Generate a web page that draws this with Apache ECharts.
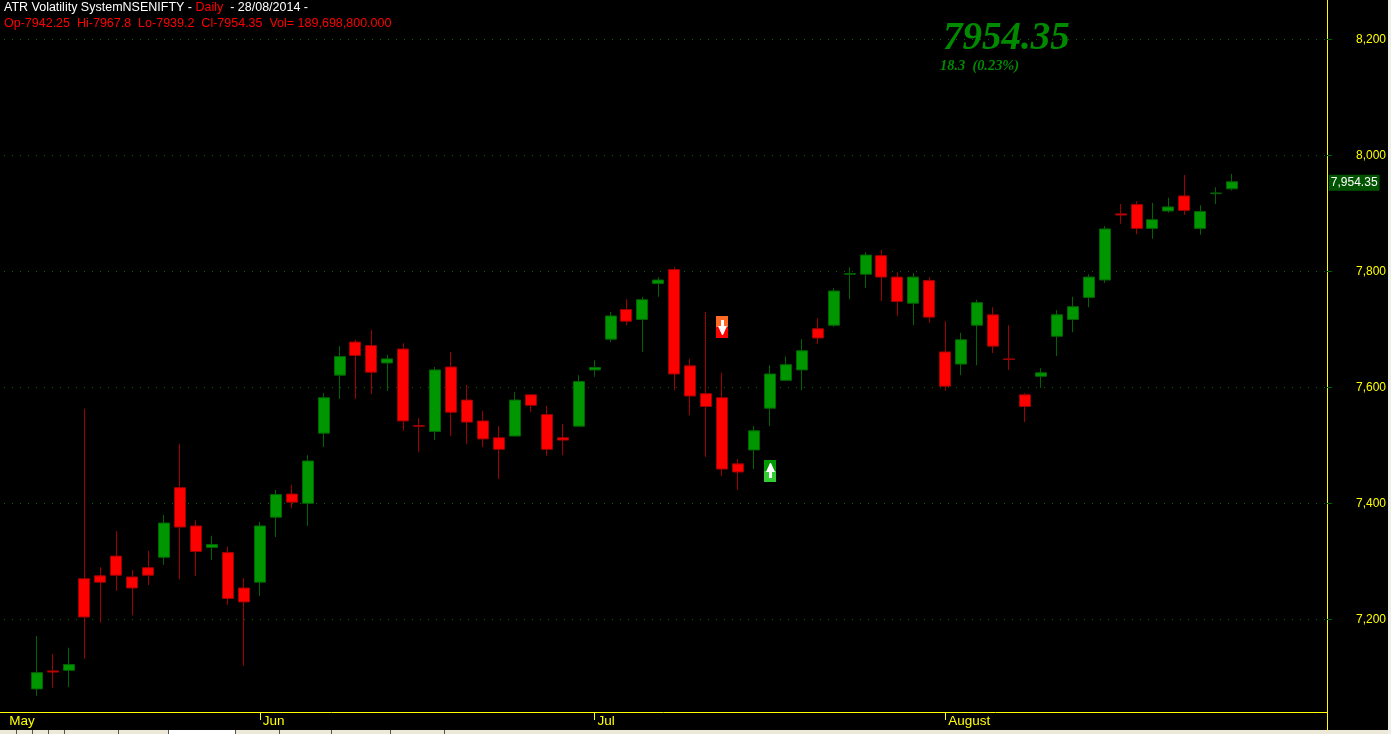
<!DOCTYPE html>
<html>
<head>
<meta charset="utf-8">
<title>ATR Volatility System NSENIFTY</title>
<script src="https://cdn.jsdelivr.net/npm/echarts@6/dist/echarts.min.js"></script>
<style>
	html, body { margin: 0; padding: 0; background: #000; }
	#chart { width: 1391px; height: 734px; }
</style>
</head>
<body>
<div id="chart"></div>
<script>
// one value per trading day, May to 28 Aug 2014
var opens = [7080,7111,7112,7270,7275,7309,7273,7289,7307,7427,7361,7324,7315,7254,7264,7376,7416,7400,7521,7621,
	7678,7672,7642,7666,7534,7524,7635,7578,7542,7513,7516,7587,7553,7513,7533,7630,7683,7734,7717,7779,
	7803,7637,7589,7582,7468,7492,7564,7612,7630,7701,7707,7795,7795,7827,7790,7745,7784,7661,7640,7707,
	7725,7649,7587,7619,7688,7717,7755,7785,7899,7915,7874,7904,7930,7874,7934,7942.25];
var closes = [7108,7109,7122,7204,7264,7276,7254,7276,7366,7359,7317,7329,7236,7230,7361,7415,7402,7473,7582,7653,
	7655,7626,7649,7542,7533,7630,7557,7540,7511,7493,7578,7569,7493,7509,7610,7634,7723,7714,7751,7785,
	7623,7585,7567,7459,7454,7525,7623,7639,7663,7685,7766,7796,7828,7790,7748,7790,7721,7602,7682,7746,
	7671,7648,7567,7625,7725,7739,7790,7873,7897,7874,7889,7911,7905,7903,7935,7954.35];
var lows = [7068,7082,7083,7132,7194,7249,7207,7259,7294,7269,7275,7302,7225,7120,7240,7342,7392,7361,7497,7580,
	7580,7588,7594,7525,7488,7509,7516,7502,7497,7442,7515,7557,7482,7483,7532,7618,7678,7707,7661,7756,
	7595,7552,7480,7447,7423,7459,7533,7611,7595,7675,7704,7752,7771,7749,7723,7707,7711,7594,7621,7638,
	7659,7630,7540,7599,7654,7695,7738,7780,7882,7864,7856,7901,7897,7863,7916,7939.2];
var highs = [7171,7140,7151,7563,7290,7352,7285,7318,7380,7502,7371,7344,7325,7271,7368,7423,7432,7483,7590,7671,
	7682,7699,7656,7676,7547,7635,7661,7604,7559,7533,7592,7588,7568,7537,7621,7647,7730,7752,7756,7790,
	7807,7649,7730,7625,7476,7533,7638,7653,7683,7719,7771,7807,7833,7837,7798,7797,7790,7714,7694,7751,
	7738,7707,7590,7633,7733,7756,7795,7878,7916,7921,7918,7927,7966,7914,7945,7967.8];

var monthIndex = [0, 14, 35, 57];
var monthLabels = ['May', 'Jun', 'Jul', 'August'];
var yTicks = [7200, 7400, 7600, 7800, 8000, 8200];
var lastClose = 7954.35;

// buy and sell arrows
var sellIndex = 43, sellPrice = 7704;
var buyIndex = 46, buyPrice = 7456;

// scale: 0.58 px per point
var yMax = 8267.76;
var yMinPlot = 7040.2;
var yMinFrame = 7009.14;

// empty days run on to the right hand side
var categories = [];
for (var i = 0; i < 81; i++) {
	var m = monthIndex.indexOf(i);
	categories.push(m >= 0 ? monthLabels[m] : 'd' + i);
}

var candles = opens.map(function (o, i) {
	return [o, closes[i], lows[i], highs[i]];
});

function renderSignal(params, api) {
	var dir = api.value(2);
	var c = api.coord([api.value(0), api.value(1)]);
	var x = Math.round(c[0]) - 6, y = Math.round(c[1]) - 11, cx = x + 6;
	var topColor = dir < 0 ? '#ff6a26' : '#009a00';
	var botColor = dir < 0 ? '#ff0000' : '#33cc33';
	var arrow = dir < 0
		? [[cx - 1, y + 4], [cx + 2, y + 4], [cx + 2, y + 10], [cx + 5, y + 10], [cx + 1, y + 19], [cx, y + 19], [cx - 4, y + 10], [cx - 1, y + 10]]
		: [[cx, y + 3], [cx + 1, y + 3], [cx + 5, y + 12], [cx + 2, y + 12], [cx + 2, y + 18], [cx - 1, y + 18], [cx - 1, y + 12], [cx - 4, y + 12]];
	return {
		type: 'group',
		children: [
			{ type: 'rect', shape: { x: x, y: y, width: 12, height: 11 }, style: { fill: topColor } },
			{ type: 'rect', shape: { x: x, y: y + 11, width: 12, height: 11 }, style: { fill: botColor } },
			{ type: 'polygon', shape: { points: arrow }, style: { fill: '#fff' } }
		]
	};
}

// window bits below and beside the chart
var chrome = [
	{ type: 'rect', shape: { x: 0, y: 730, width: 1391, height: 4 }, style: { fill: '#ece9d8' } },
	{ type: 'rect', shape: { x: 168, y: 730, width: 67, height: 4 }, style: { fill: '#fff' } },
	{ type: 'rect', shape: { x: 1388, y: 0, width: 3, height: 734 }, style: { fill: '#f0f0ea' } }
];
[16, 32, 48, 64, 118, 168, 235, 279, 331, 390, 444].forEach(function (x) {
	chrome.push({ type: 'rect', shape: { x: x, y: 730, width: 1, height: 4 }, style: { fill: '#555' } });
});

var myChart = echarts.init(document.getElementById('chart'));
myChart.setOption({
	animation: false,
	backgroundColor: '#000',
	textStyle: { fontFamily: '"Liberation Sans", Arial, sans-serif' },
	title: [{
		left: 4, top: 1, padding: 0,
		text: '{w|ATR Volatility SystemNSENIFTY - }{r|Daily}{w|  - 28/08/2014 -}',
		textStyle: {
			rich: {
				w: { color: '#fff', fontSize: 12.5, fontWeight: 'normal', fontFamily: '"Liberation Sans"' },
				r: { color: '#ff0000', fontSize: 12.5, fontWeight: 'normal', fontFamily: '"Liberation Sans"' }
			}
		}
	}, {
		left: 4, top: 17, padding: 0,
		text: 'Op-7942.25  Hi-7967.8  Lo-7939.2  Cl-7954.35  Vol= 189,698,800.000',
		textStyle: { color: '#ff0000', fontSize: 12.5, fontWeight: 'normal', fontFamily: '"Liberation Sans"' }
	}, {
		left: 943, top: 19, padding: 0,
		text: '7954.35',
		textStyle: { color: '#008a00', fontSize: 39, fontWeight: 'bold', fontStyle: 'italic', fontFamily: '"Liberation Serif"' }
	}, {
		left: 940, top: 59, padding: 0,
		text: '18.3  (0.23%)',
		textStyle: { color: '#008a00', fontSize: 14.4, fontWeight: 'bold', fontStyle: 'italic', fontFamily: '"Liberation Serif"' }
	}],
	graphic: chrome,
	grid: [
		{ left: 28.7, top: 0, width: 1291.14, height: 712 },
		{ left: 0, top: 0, width: 1327, height: 730 }
	],
	xAxis: [{
		type: 'category',
		gridIndex: 0,
		data: categories.map(function (c) {
			if (c === 'May') {
				return { value: c, textStyle: { align: 'right', padding: [0, 2, 0, 0] } };
			}
			return c;
		}),
		axisLine: { show: false },
		axisTick: {
			show: true,
			alignWithLabel: true,
			length: 8,
			lineStyle: { color: '#ffff00' },
			interval: function (i) { return i !== 0 && monthIndex.indexOf(i) >= 0; }
		},
		axisLabel: {
			color: '#ffff00',
			fontSize: 13.5,
			margin: 2,
			align: 'left',
			padding: [0, 0, 0, 3],
			interval: function (i) { return monthIndex.indexOf(i) >= 0; }
		},
		splitLine: { show: false }
	}, {
		type: 'category',
		gridIndex: 1,
		data: [''],
		offset: -18,
		axisLine: { show: true, lineStyle: { color: '#ffff00', width: 1 } },
		axisTick: { show: false },
		axisLabel: { show: false }
	}],
	yAxis: [{
		type: 'value',
		gridIndex: 0,
		min: yMinPlot,
		max: yMax,
		show: false,
		splitLine: { show: false }
	}, {
		type: 'value',
		gridIndex: 1,
		position: 'right',
		min: yMinFrame,
		max: yMax,
		axisLine: { show: true, lineStyle: { color: '#ffff00', width: 1 } },
		axisTick: { show: true, length: 5, lineStyle: { color: '#006400' }, customValues: yTicks },
		axisLabel: {
			color: '#ffff00',
			fontSize: 12,
			margin: 29,
			align: 'left',
			padding: [2, 0, 0, 0],
			customValues: yTicks,
			formatter: function (v) { return String(v).replace(/(\d)(\d{3})$/, '$1,$2'); }
		},
		splitLine: {
			show: true,
			lineStyle: { color: '#006400', type: [1, 7], dashOffset: 4, width: 1 }
		}
	}],
	series: [{
		type: 'candlestick',
		xAxisIndex: 0,
		yAxisIndex: 0,
		barWidth: 11.5,
		data: candles,
		itemStyle: {
			color: '#009600',
			color0: '#ff0000',
			borderColor: '#006400',
			borderColor0: '#a00000',
			borderWidth: 1
		},
		markLine: {
			silent: true,
			symbol: 'none',
			animation: false,
			lineStyle: { color: 'rgba(0,0,0,0)' },
			data: [{ yAxis: lastClose }],
			label: {
				show: true,
				position: 'end',
				distance: 9,
				offset: [0, 1],
				color: '#fff',
				fontSize: 12,
				backgroundColor: '#005400',
				padding: [2, 2, 2, 2],
				formatter: function () { return '7,954.35'; }
			}
		}
	}, {
		type: 'custom',
		xAxisIndex: 0,
		yAxisIndex: 0,
		silent: true,
		renderItem: renderSignal,
		encode: { x: 0, y: 1 },
		data: [[sellIndex, sellPrice, -1], [buyIndex, buyPrice, 1]]
	}]
});
</script>
</body>
</html>
